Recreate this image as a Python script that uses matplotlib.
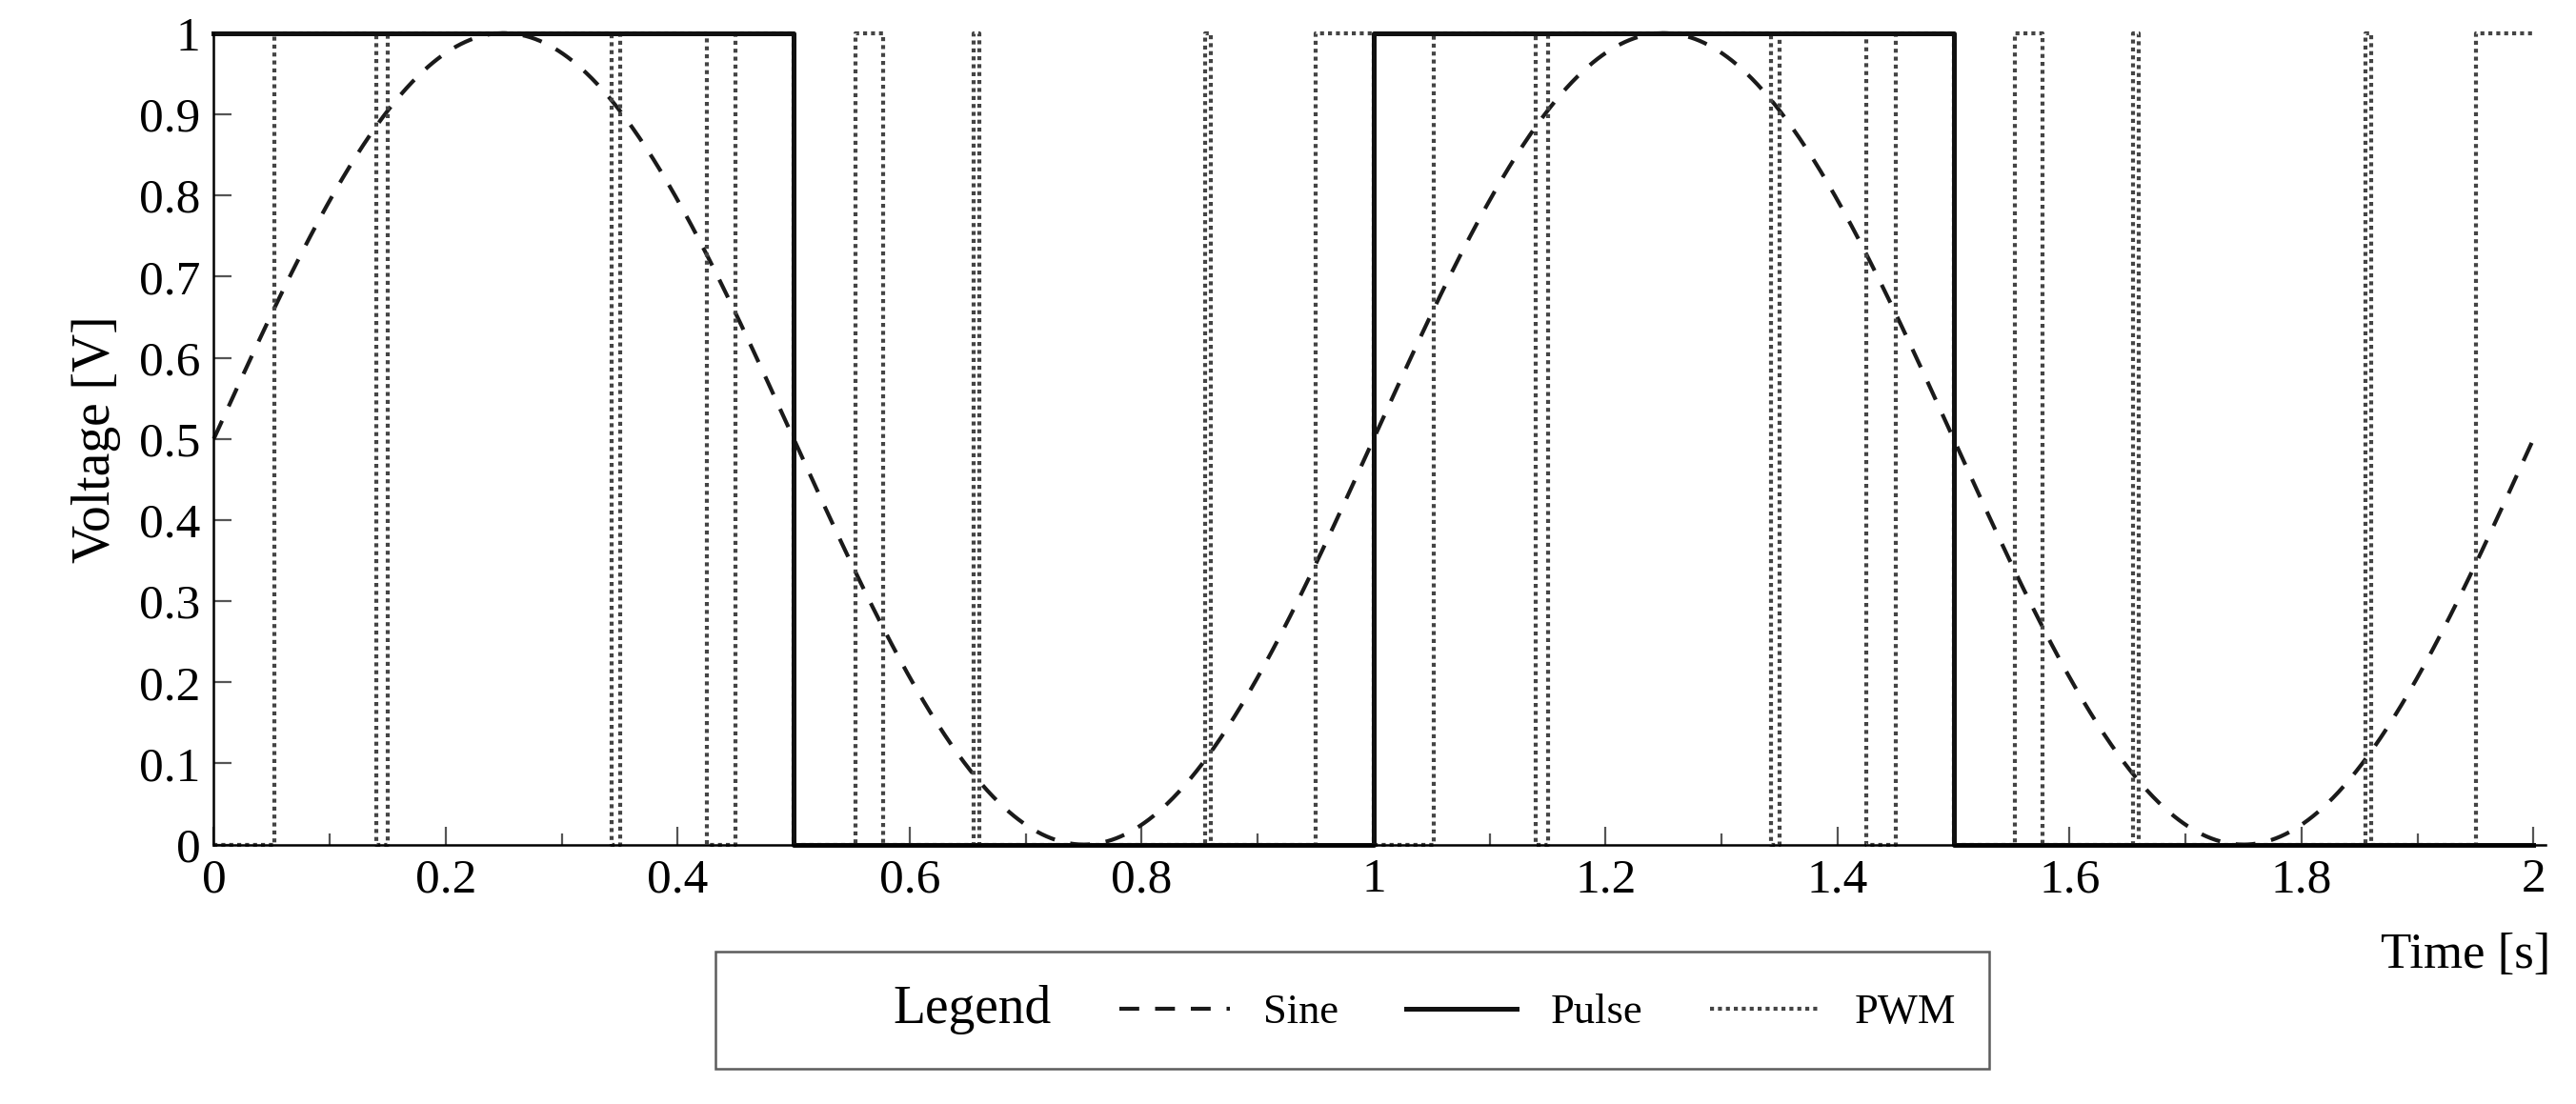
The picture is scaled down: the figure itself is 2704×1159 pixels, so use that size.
import numpy as np
import matplotlib
matplotlib.use("Agg")
import matplotlib.pyplot as plt
from matplotlib.lines import Line2D

plt.rcParams['font.family'] = ['Liberation Serif', 'DejaVu Serif']

# sine 0.5 + 0.5 sin(2*pi*t), 1 Hz
sine_freq = 1.0
sine_offset = 0.5
sine_amp = 0.5

# pulse: breakpoints and value after each
pulse_t = [0.0, 0.5, 1.0, 1.5, 2.0]
pulse_v = [1, 0, 1, 0, 0]

# PWM: breakpoints and value after each
pwm_t = [0.0, 0.052, 0.140, 0.150, 0.343, 0.350, 0.425, 0.450, 0.500,
         0.553, 0.577, 0.655, 0.660, 0.855, 0.860, 0.950, 1.000,
         1.052, 1.140, 1.150, 1.343, 1.350, 1.425, 1.450, 1.500,
         1.553, 1.577, 1.655, 1.660, 1.855, 1.860, 1.950, 2.000]
pwm_v = [0, 1, 0, 1, 0, 1, 0, 1, 0,
         1, 0, 1, 0, 1, 0, 1, 0,
         1, 0, 1, 0, 1, 0, 1, 0,
         1, 0, 1, 0, 1, 0, 1, 1]

fig = plt.figure(figsize=(27.04, 11.59), dpi=100)
ax = fig.add_axes([0.083, 0.235, 0.905, 0.735])

t = np.linspace(0, 2, 2001)
ax.plot(t, sine_offset + sine_amp * np.sin(2 * np.pi * sine_freq * t),
        color='#1a1a1a', ls=(0, (5, 4)), lw=3.0, clip_on=False)
ax.step(pwm_t, pwm_v, where='post', color='#444444', ls=(0, (1, 1)), lw=3.0, clip_on=False)
ax.step(pulse_t, pulse_v, where='post', color='#111111', lw=3.6, clip_on=False)

ax.set_xlim(0, 2.01)
ax.set_ylim(0, 1)
ax.set_xticks(np.arange(0, 2.01, 0.2))
ax.set_xticklabels(['0', '0.2', '0.4', '0.6', '0.8', '1', '1.2', '1.4', '1.6', '1.8', '2'])
ax.set_xticks(np.arange(0.1, 2.0, 0.2), minor=True)
ax.set_yticks(np.arange(0, 1.01, 0.1))
ax.set_yticklabels(['0', '0.1', '0.2', '0.3', '0.4', '0.5', '0.6', '0.7', '0.8', '0.9', '1'])
ax.tick_params(direction='in', length=14, width=1.6, labelsize=37, pad=10, color='#555555')
ax.tick_params(which='minor', direction='in', length=9, width=1.6, color='#555555')
for s in ['top', 'right']:
    ax.spines[s].set_visible(False)
for s in ['left', 'bottom']:
    ax.spines[s].set_linewidth(1.8)
ax.set_ylabel('Voltage [V]', fontsize=40, labelpad=14)

fig.text(0.99, 0.135, 'Time [s]', fontsize=38, ha='right', va='center')

handles = [Line2D([], [], color='none'),
           Line2D([], [], color='#1a1a1a', ls=(0, (5, 4)), lw=3.0),
           Line2D([], [], color='#111111', lw=3.6),
           Line2D([], [], color='#444444', ls=(0, (1, 1)), lw=3.0)]
labels = ['Legend', 'Sine', 'Pulse', 'PWM']
leg = fig.legend(handles, labels, loc='center', bbox_to_anchor=(0.525, 0.085), ncol=4,
                 fontsize=32, frameon=True, fancybox=False, edgecolor='#333333',
                 handlelength=2.6, columnspacing=1.6, borderpad=0.8)
leg.get_frame().set_linewidth(1.8)
leg.get_texts()[0].set_fontsize(40)
for txt in leg.get_texts()[1:]:
    txt.set_fontsize(32)

fig.savefig('out.png', dpi=100)
